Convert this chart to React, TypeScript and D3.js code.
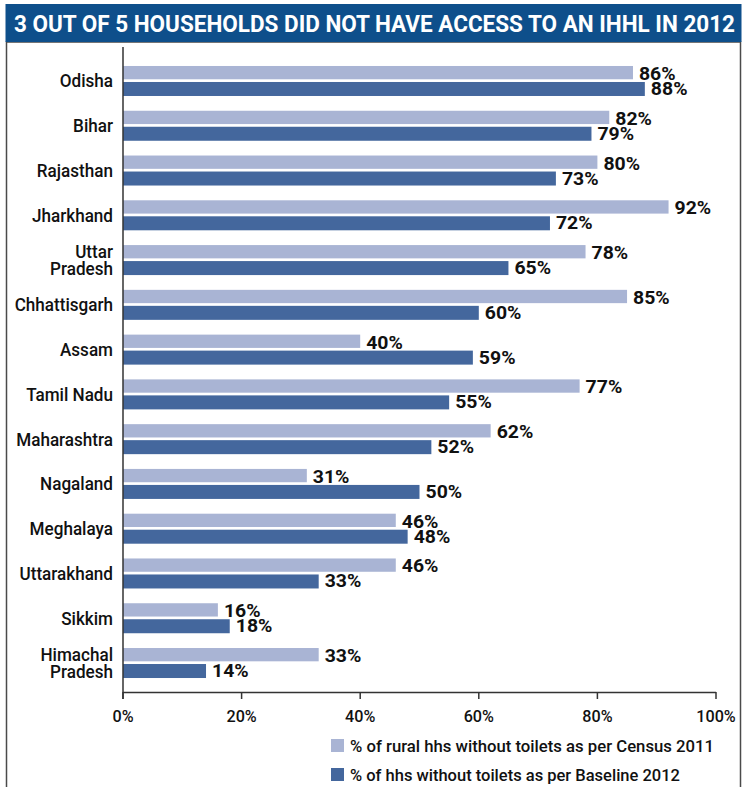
import React from "react";
import * as d3 from "d3";

const categories = [
  ["Odisha"], ["Bihar"], ["Rajasthan"], ["Jharkhand"], ["Uttar", "Pradesh"],
  ["Chhattisgarh"], ["Assam"], ["Tamil Nadu"], ["Maharashtra"], ["Nagaland"],
  ["Meghalaya"], ["Uttarakhand"], ["Sikkim"], ["Himachal", "Pradesh"],
];
const census2011 = [86, 82, 80, 92, 78, 85, 40, 77, 62, 31, 46, 46, 16, 33];
const baseline2012 = [88, 79, 73, 72, 65, 60, 59, 55, 52, 50, 48, 33, 18, 14];
const xTicks = [0, 20, 40, 60, 80, 100];
const legendLabels = [
  "% of rural hhs without toilets as per Census 2011",
  "% of hhs without toilets as per Baseline 2012",
];
const title = "3 OUT OF 5 HOUSEHOLDS DID NOT HAVE ACCESS TO AN IHHL IN 2012";

const W = 747, H = 787;
const LIGHT = "#a9b4d4";
const DARK = "#44679d";
const TITLE_BG = "#0e4f8b";
const FONT = "Roboto, 'Noto Sans', sans-serif";

function CText({ x, y, sx = 1, anchor = "start", size, weight = 400, fill = "#111", children }: any) {
  return (
    <text
      transform={`translate(${x},${y}) scale(${sx},1)`}
      textAnchor={anchor}
      fontSize={size}
      fontWeight={weight}
      fill={fill}
      fontFamily={FONT}
    >
      {children}
    </text>
  );
}

export default function App() {
  const x = d3.scaleLinear().domain([0, 100]).range([123, 716]);
  const names = categories.map((c) => c.join(" "));
  const y = d3.scaleBand<string>().domain(names).range([58.6, 685.4]).padding(0);
  const bw = y.bandwidth();

  return (
    <svg width={W} height={H} style={{ position: "absolute", left: 0, top: 0, background: "#fff" }}>
      <rect x={6.5} y={42} width={734} height={760} fill="none" stroke="#4a4a4a" strokeWidth={1.5} />
      <rect x={5.5} y={4} width={736} height={38} fill={TITLE_BG} />
      <text
        x={14}
        y={32}
        fontSize={24.5}
        fontWeight={700}
        fill="#fff"
        fontFamily={FONT}
        textLength={721}
        lengthAdjust="spacingAndGlyphs"
      >
        {title}
      </text>

      {names.map((n, i) => {
        const c = (y(n) as number) + bw / 2;
        return (
          <g key={n}>
            <rect x={x(0)} y={c - 15} width={x(census2011[i]) - x(0)} height={13.3} fill={LIGHT} />
            <rect x={x(0)} y={c + 1} width={x(baseline2012[i]) - x(0)} height={14} fill={DARK} />
            <CText x={x(census2011[i]) + 6} y={c - 1} size={18} weight={700} sx={1.08}>
              {census2011[i]}%
            </CText>
            <CText x={x(baseline2012[i]) + 6} y={c + 14} size={18} weight={700} sx={1.08}>
              {baseline2012[i]}%
            </CText>
            {categories[i].length === 1 ? (
              <CText x={113} y={c + 6.5} anchor="end" size={19} weight={500} sx={0.9}>
                {categories[i][0]}
              </CText>
            ) : (
              <>
                <CText x={113} y={c - 2} anchor="end" size={19} weight={500} sx={0.9}>
                  {categories[i][0]}
                </CText>
                <CText x={113} y={c + 15} anchor="end" size={19} weight={500} sx={0.9}>
                  {categories[i][1]}
                </CText>
              </>
            )}
          </g>
        );
      })}

      <line x1={123} x2={123} y1={47} y2={699} stroke="#333" strokeWidth={1.5} />
      <line x1={123} x2={716} y1={692.5} y2={692.5} stroke="#333" strokeWidth={1.5} />
      {xTicks.map((t) => (
        <g key={t}>
          <line x1={x(t)} x2={x(t)} y1={692} y2={699} stroke="#333" strokeWidth={1.5} />
          <CText x={x(t)} y={722} anchor="middle" size={17} weight={500} sx={0.95}>
            {t}%
          </CText>
        </g>
      ))}

      {legendLabels.map((l, i) => (
        <g key={l}>
          <rect x={331} y={739 + i * 29} width={13} height={13} fill={i === 0 ? LIGHT : DARK} />
          <text
            x={350}
            y={752 + i * 29}
            fontSize={17}
            fontWeight={500}
            fill="#111"
            fontFamily={FONT}
            textLength={i === 0 ? 364 : 330}
            lengthAdjust="spacingAndGlyphs"
          >
            {l}
          </text>
        </g>
      ))}
    </svg>
  );
}
